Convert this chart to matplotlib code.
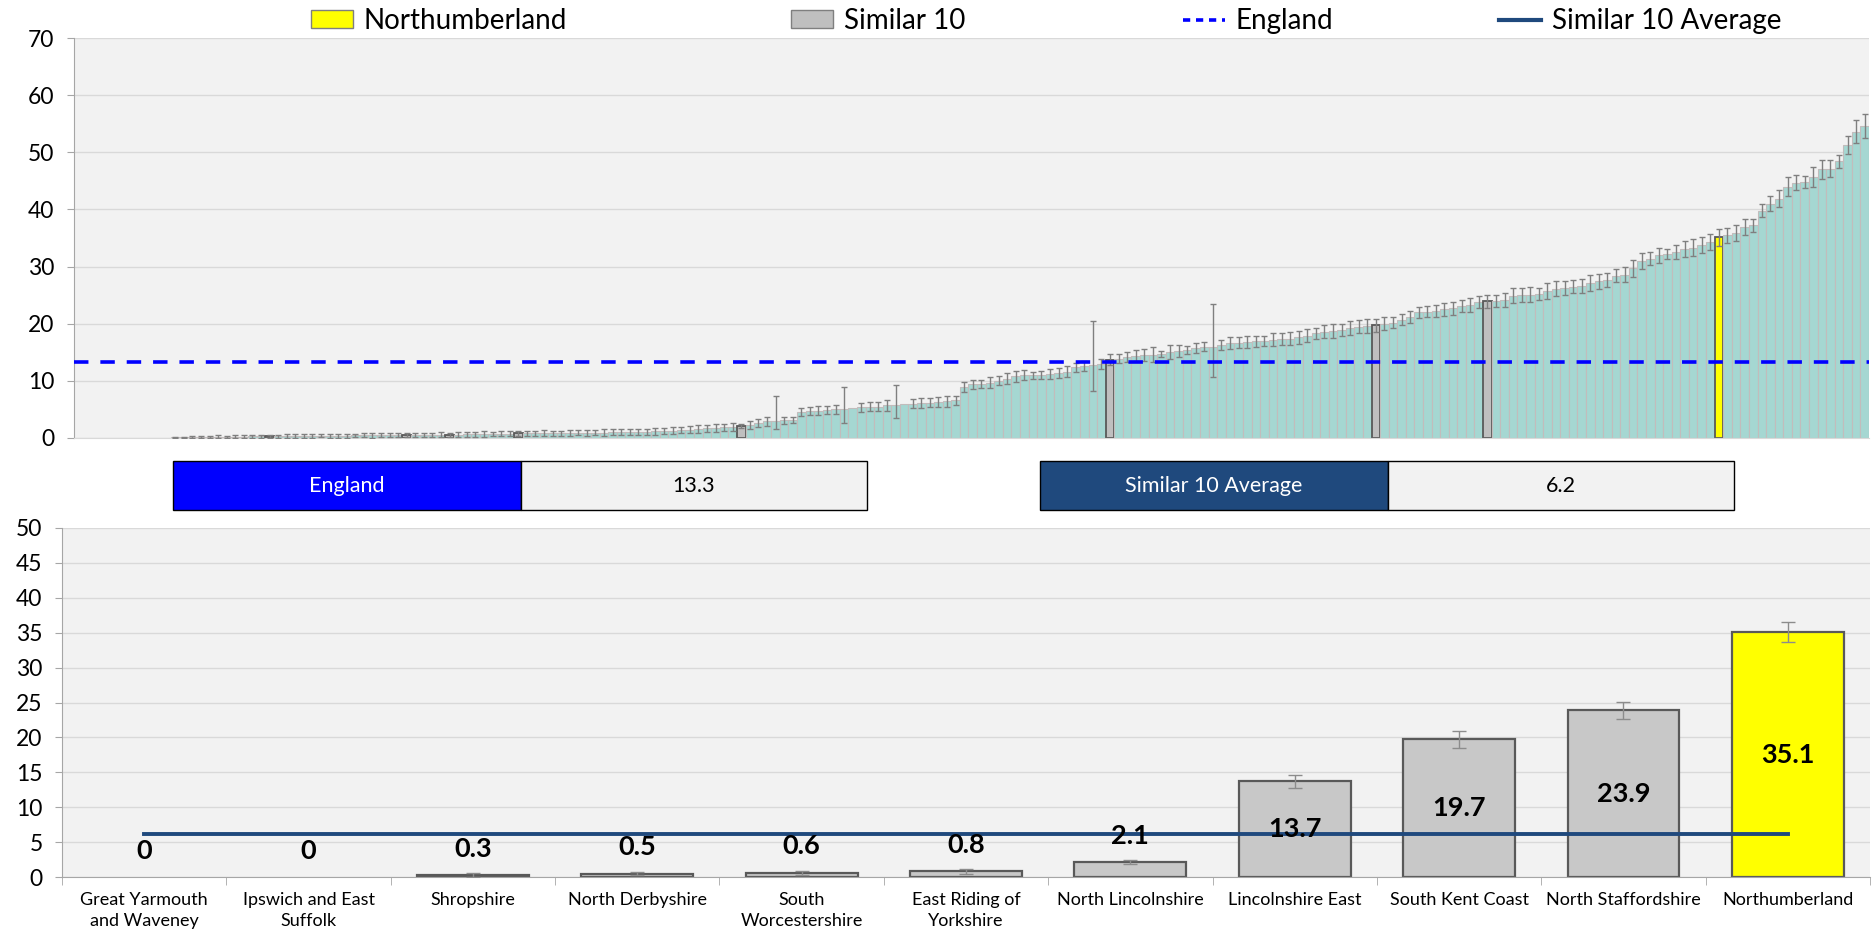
import numpy as np
import matplotlib
matplotlib.use("Agg")
import matplotlib.pyplot as plt
from matplotlib.patches import Patch, Rectangle
from matplotlib.lines import Line2D

plt.rcParams['font.family'] = ['Lato', 'DejaVu Sans']

# All CCGs, sorted low to high
all_values = [
    0, 0, 0, 0, 0, 0, 0, 0, 0, 0, 0,
    0.1, 0.1, 0.15, 0.15, 0.2, 0.2, 0.2, 0.25, 0.25, 0.3,
    0.3, 0.3, 0.3, 0.35, 0.35, 0.35, 0.4, 0.4, 0.4, 0.4,
    0.4, 0.45, 0.45, 0.45, 0.45, 0.5, 0.5, 0.5, 0.5, 0.55,
    0.55, 0.6, 0.6, 0.6, 0.65, 0.65, 0.7, 0.7, 0.75, 0.75,
    0.8, 0.8, 0.8, 0.85, 0.85, 0.85, 0.9, 0.9, 0.9, 0.95,
    0.95, 1.0, 1.0, 1.05, 1.1, 1.1, 1.15, 1.2, 1.3, 1.4,
    1.45, 1.55, 1.7, 1.8, 1.85, 2.0, 2.1, 2.3, 2.7, 2.9,
    3.0, 3.1, 3.2, 4.6, 4.7, 4.8, 4.9, 5.0, 5.1, 5.2,
    5.4, 5.5, 5.5, 5.7, 5.7, 5.9, 6.0, 6.1, 6.2, 6.3,
    6.4, 6.6, 8.9, 9.4, 9.5, 9.7, 10.0, 10.4, 10.8, 11.0,
    11.0, 11.1, 11.2, 11.4, 11.6, 12.4, 12.6, 12.8, 13.0, 13.7,
    13.9, 14.2, 14.4, 14.5, 14.6, 14.7, 15.1, 15.2, 15.4, 15.7,
    16.0, 16.0, 16.3, 16.6, 16.7, 16.8, 16.9, 17.0, 17.2, 17.3,
    17.4, 17.6, 17.9, 18.3, 18.6, 18.7, 18.9, 19.2, 19.5, 19.6,
    19.7, 20.0, 20.2, 20.7, 21.2, 22.0, 22.1, 22.2, 22.5, 22.7,
    23.1, 23.3, 23.8, 23.9, 24.0, 24.2, 24.9, 25.0, 25.1, 25.2,
    25.8, 26.1, 26.2, 26.5, 26.6, 27.2, 27.4, 27.7, 28.4, 28.6,
    29.7, 31.0, 31.4, 32.0, 32.2, 32.6, 33.1, 33.3, 33.7, 34.3,
    35.1, 35.5, 35.9, 36.9, 37.2, 39.8, 41.0, 41.9, 44.0, 44.7,
    44.8, 45.7, 47.0, 47.1, 48.4, 51.3, 53.6, 54.6,
]
all_err = [
    0, 0, 0, 0, 0, 0, 0, 0, 0, 0, 0,
    0.15, 0.15, 0.2, 0.2, 0.2, 0.25, 0.2, 0.25, 0.25, 0.25,
    0.25, 0.3, 0.3, 0.3, 0.3, 0.3, 0.35, 0.3, 0.35, 0.35,
    0.35, 0.3, 0.35, 0.4, 0.35, 0.35, 0.4, 0.35, 0.4, 0.4,
    0.4, 0.4, 0.35, 0.4, 0.45, 0.4, 0.45, 0.4, 0.45, 0.45,
    0.4, 0.45, 0.45, 0.5, 0.45, 0.45, 0.5, 0.45, 0.5, 0.5,
    0.55, 0.5, 0.5, 0.55, 0.55, 0.5, 0.6, 0.55, 0.6, 0.6,
    0.6, 0.65, 0.6, 0.7, 0.65, 0.7, 0.4, 0.65, 0.7, 0.8,
    0.0, 0.6, 0.5, 0.7, 0.75, 0.8, 0.7, 0.8, 0.75, 0.0,
    0.8, 0.75, 0.8, 0.9, 0.7, 0.0, 0.8, 0.9, 0.85, 0.8,
    0.9, 0.8, 0.9, 0.8, 0.7, 0.9, 0.8, 0.9, 1.0, 0.9,
    0.6, 0.7, 0.8, 0.9, 1.0, 0.8, 0.9, 0.0, 0.9, 0.95,
    0.8, 0.9, 1.0, 1.1, 1.3, 0.5, 1.2, 1.1, 0.7, 0.9,
    0.8, 0.0, 0.9, 1.1, 1.0, 1.1, 1.0, 0.9, 1.1, 1.0,
    1.2, 1.2, 1.1, 1.0, 1.1, 1.2, 1.1, 1.2, 1.1, 1.2,
    1.15, 1.1, 0.9, 1.0, 1.1, 1.0, 1.0, 1.1, 1.2, 1.1,
    1.1, 1.2, 1.1, 1.2, 1.0, 1.2, 1.3, 1.2, 1.3, 1.1,
    1.4, 1.3, 1.2, 1.1, 1.3, 1.4, 1.3, 1.2, 1.1, 1.3,
    1.5, 1.4, 1.2, 1.3, 0.8, 1.2, 1.4, 1.5, 1.4, 1.4,
    1.45, 1.3, 1.4, 1.4, 1.2, 1.2, 1.3, 1.5, 1.6, 1.3,
    1.0, 1.7, 1.6, 1.5, 1.2, 1.6, 2.0, 2.1,
]
wide_ci_rank = [81, 89, 95, 118, 132]
wide_ci_low = [1.5, 2.7, 3.5, 8.2, 10.7]
wide_ci_high = [7.4, 8.9, 9.2, 20.4, 23.5]

# Northumberland and its 10 most similar CCGs
similar_names = [
    "Great Yarmouth\nand Waveney", "Ipswich and East\nSuffolk", "Shropshire",
    "North Derbyshire", "South\nWorcestershire", "East Riding of\nYorkshire",
    "North Lincolnshire", "Lincolnshire East", "South Kent Coast",
    "North Staffordshire", "Northumberland",
]
similar_values = [0, 0, 0.3, 0.5, 0.6, 0.8, 2.1, 13.7, 19.7, 23.9, 35.1]
similar_err = [0, 0, 0.3, 0.25, 0.3, 0.35, 0.3, 0.95, 1.15, 1.2, 1.45]
similar_rank = [3, 7, 22, 38, 43, 51, 77, 120, 151, 164, 191]

england_value = 13.3
similar_avg = 6.2

TEAL = '#A5D7D2'
GREY = '#BFBFBF'
YELLOW = '#FFFF00'
NAVY = '#1F497D'
BG = '#F2F2F2'
GRID = '#D9D9D9'

W, H = 1873, 936
fig = plt.figure(figsize=(W / 100, H / 100), dpi=100)


def fx(px):
    return px / W


def fy(py):
    return 1 - py / H


# ---------- top panel ----------
ax1 = fig.add_axes([fx(74), fy(438), fx(1869 - 74), (438 - 38) / H])
ax1.set_facecolor(BG)
n = len(all_values)
x = np.arange(n)
colors = [TEAL] * n
edges = ['#C2BCBC'] * n
lws = [0.8] * n
for r in similar_rank[:-1]:
    colors[r] = GREY
    edges[r] = '#595959'
    lws[r] = 1.3
colors[similar_rank[-1]] = YELLOW
edges[similar_rank[-1]] = '#595959'
lws[similar_rank[-1]] = 1.3
for i, v in enumerate(all_values):
    if v == 0:
        lws[i] = 0

ax1.bar(x, all_values, width=1.0, color=colors, edgecolor=edges, linewidth=lws, zorder=2)

lo = np.array(all_err, dtype=float)
hi = np.array(all_err, dtype=float)
vals = np.array(all_values, dtype=float)
for r, l, h in zip(wide_ci_rank, wide_ci_low, wide_ci_high):
    lo[r] = vals[r] - l
    hi[r] = h - vals[r]
mask = (lo > 0) | (hi > 0)
ax1.errorbar(x[mask], vals[mask], yerr=[lo[mask], hi[mask]], fmt='none',
             ecolor='#7F7F7F', elinewidth=1.0, capsize=2.5, capthick=1.0, zorder=3)

ax1.axhline(england_value, color='#0000FF', lw=2.6, linestyle=(0, (4, 3.3)), zorder=4)

ax1.set_xlim(-0.8, n - 0.5)
ax1.set_ylim(0, 70)
ax1.set_yticks(range(0, 71, 10))
ax1.set_xticks([])
ax1.grid(axis='y', color=GRID, lw=1.0, zorder=0)
ax1.set_axisbelow(True)
for s in ['top', 'right']:
    ax1.spines[s].set_visible(False)
ax1.spines['left'].set_color('#A6A6A6')
ax1.spines['bottom'].set_color('#D9D9D9')
ax1.tick_params(axis='y', labelsize=16.5, length=5, color='#A6A6A6', pad=9)

# ---------- info boxes ----------
boxes = [
    (173, 521, 'England', '#0000FF', 'white'),
    (521, 867, f'{england_value}', BG, 'black'),
    (1040, 1388, 'Similar 10 Average', NAVY, 'white'),
    (1388, 1734, f'{similar_avg}', BG, 'black'),
]
for x0, x1, label, fc, tc in boxes:
    fig.add_artist(Rectangle((fx(x0), fy(510)), fx(x1 - x0), 49 / H,
                             transform=fig.transFigure, facecolor=fc,
                             edgecolor='black', linewidth=1.0))
    fig.text(fx((x0 + x1) / 2), fy(485.5), label, ha='center', va='center',
             fontsize=15.5, color=tc)

# ---------- bottom panel ----------
ax2 = fig.add_axes([fx(62), fy(877), fx(1870 - 62), (877 - 528) / H])
ax2.set_facecolor(BG)
m = len(similar_values)
xs = np.arange(m)
bcolors = ['#C8C8C8'] * (m - 1) + [YELLOW]
blw = [0 if v == 0 else 1.6 for v in similar_values]
ax2.bar(xs, similar_values, width=0.68, color=bcolors, edgecolor='#595959',
        linewidth=blw, zorder=2)
sv = np.array(similar_values, dtype=float)
se = np.array(similar_err, dtype=float)
emask = se > 0
ax2.errorbar(xs[emask], sv[emask], yerr=se[emask], fmt='none', ecolor='#8C8C8C',
             elinewidth=1.0, capsize=5, capthick=1.0, zorder=3)
ax2.plot([xs[0], xs[-1]], [similar_avg, similar_avg], color=NAVY, lw=2.8, zorder=4)

for xi, v in zip(xs, similar_values):
    label = f'{v:g}'
    if v > 5:
        ax2.text(xi, v / 2, label, ha='center', va='center', fontsize=19.5,
                 fontweight='bold', zorder=5)
    else:
        ax2.annotate(label, (xi, v), xytext=(0, 19), textcoords='offset points',
                     ha='center', va='center', fontsize=19.5, fontweight='bold', zorder=5)

ax2.set_xlim(-0.5, m - 0.5)
ax2.set_ylim(0, 50)
ax2.set_yticks(range(0, 51, 5))
ax2.set_xticks(xs)
ax2.set_xticklabels(similar_names, fontsize=13, linespacing=1.4)
ax2.set_xticks(np.arange(-0.5, m, 1), minor=True)
ax2.tick_params(axis='x', which='major', length=0, pad=11)
ax2.tick_params(axis='x', which='minor', length=6, color='#A6A6A6')
ax2.tick_params(axis='y', labelsize=16.5, length=5, color='#A6A6A6', pad=9)
ax2.grid(axis='y', color=GRID, lw=1.0, zorder=0)
ax2.set_axisbelow(True)
for s in ['top', 'right']:
    ax2.spines[s].set_visible(False)
ax2.spines['left'].set_color('#A6A6A6')
ax2.spines['bottom'].set_color('#A6A6A6')

# ---------- legend ----------
legend_items = [
    (311, Patch(facecolor=YELLOW, edgecolor='#7F7F7F'), 'Northumberland'),
    (791, Patch(facecolor=GREY, edgecolor='#7F7F7F'), 'Similar 10'),
    (1183, Line2D([], [], color='#0000FF', lw=2.6, linestyle=(0, (2, 1.6))), 'England'),
    (1499, Line2D([], [], color=NAVY, lw=3), 'Similar 10 Average'),
]
for px, handle, label in legend_items:
    fig.legend(handles=[handle], labels=[label], loc='center left',
               bbox_to_anchor=(fx(px), fy(21)), frameon=False, fontsize=20,
               handlelength=1.5, handleheight=0.62, handletextpad=0.4,
               borderpad=0, borderaxespad=0)

fig.savefig('out.png', dpi=100)
